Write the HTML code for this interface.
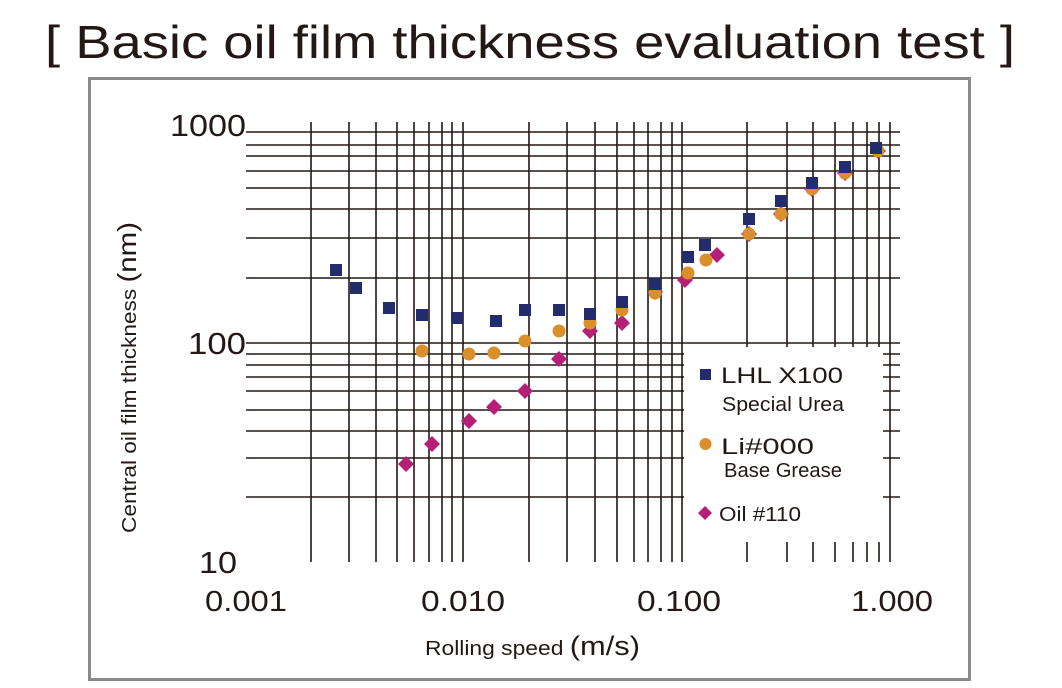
<!DOCTYPE html>
<html><head><meta charset="utf-8"><style>
html,body{margin:0;padding:0;background:#fff;}
svg{display:block;}
text{font-family:"Liberation Sans","DejaVu Sans",sans-serif;fill:#231815;}
</style></head><body>
<svg width="1062" height="688" viewBox="0 0 1062 688" xmlns="http://www.w3.org/2000/svg">
<text x="45" y="58" font-size="46" textLength="970" lengthAdjust="spacingAndGlyphs">[ Basic oil film thickness evaluation test ]</text>
<rect x="89.5" y="78.5" width="880" height="601" fill="none" stroke="#8a8a8a" stroke-width="3"/>
<g stroke="#231815" stroke-width="1.6">
<line x1="246" x2="900" y1="132" y2="132"/>
<line x1="246" x2="900" y1="145" y2="145"/>
<line x1="246" x2="900" y1="156" y2="156"/>
<line x1="246" x2="900" y1="171" y2="171"/>
<line x1="246" x2="900" y1="188" y2="188"/>
<line x1="246" x2="900" y1="209" y2="209"/>
<line x1="246" x2="900" y1="238" y2="238"/>
<line x1="246" x2="900" y1="278" y2="278"/>
<line x1="246" x2="900" y1="343" y2="343"/>
<line x1="246" x2="900" y1="354" y2="354"/>
<line x1="246" x2="900" y1="365" y2="365"/>
<line x1="246" x2="900" y1="377" y2="377"/>
<line x1="246" x2="900" y1="391" y2="391"/>
<line x1="246" x2="900" y1="410" y2="410"/>
<line x1="246" x2="900" y1="431" y2="431"/>
<line x1="246" x2="900" y1="458" y2="458"/>
<line x1="246" x2="900" y1="497" y2="497"/>
<line x1="311" x2="311" y1="122" y2="562"/>
<line x1="349" x2="349" y1="122" y2="562"/>
<line x1="376" x2="376" y1="122" y2="562"/>
<line x1="397" x2="397" y1="122" y2="562"/>
<line x1="414" x2="414" y1="122" y2="562"/>
<line x1="429" x2="429" y1="122" y2="562"/>
<line x1="442" x2="442" y1="122" y2="562"/>
<line x1="452" x2="452" y1="122" y2="562"/>
<line x1="463" x2="463" y1="122" y2="562"/>
<line x1="529" x2="529" y1="122" y2="562"/>
<line x1="567" x2="567" y1="122" y2="562"/>
<line x1="595" x2="595" y1="122" y2="562"/>
<line x1="617" x2="617" y1="122" y2="562"/>
<line x1="634" x2="634" y1="122" y2="562"/>
<line x1="648" x2="648" y1="122" y2="562"/>
<line x1="661" x2="661" y1="122" y2="562"/>
<line x1="672" x2="672" y1="122" y2="562"/>
<line x1="682" x2="682" y1="122" y2="562"/>
<line x1="747" x2="747" y1="122" y2="562"/>
<line x1="787" x2="787" y1="122" y2="562"/>
<line x1="813" x2="813" y1="122" y2="562"/>
<line x1="835" x2="835" y1="122" y2="562"/>
<line x1="853" x2="853" y1="122" y2="562"/>
<line x1="867" x2="867" y1="122" y2="562"/>
<line x1="879" x2="879" y1="122" y2="562"/>
<line x1="890" x2="890" y1="122" y2="562"/>
</g>
<rect x="684" y="347" width="199" height="195" fill="#fff"/>
<!-- diamonds -->
<g fill="#b51f77">
<path d="M406 456l8 8-8 8-8-8z"/><path d="M432 436l8 8-8 8-8-8z"/><path d="M469 413l8 8-8 8-8-8z"/><path d="M494 399l8 8-8 8-8-8z"/><path d="M525 383l8 8-8 8-8-8z"/><path d="M559 351l8 8-8 8-8-8z"/><path d="M590 323l8 8-8 8-8-8z"/><path d="M622 315l8 8-8 8-8-8z"/><path d="M655 284l8 8-8 8-8-8z"/><path d="M685 272l8 8-8 8-8-8z"/><path d="M717 247l8 8-8 8-8-8z"/><path d="M749 226l8 8-8 8-8-8z"/><path d="M781 206l8 8-8 8-8-8z"/><path d="M812 181l8 8-8 8-8-8z"/><path d="M845 165l8 8-8 8-8-8z"/><path d="M878 143l8 8-8 8-8-8z"/>
</g>
<!-- circles -->
<g fill="#d98f2a">
<circle cx="422" cy="351" r="6.5"/><circle cx="469" cy="354" r="6.5"/><circle cx="494" cy="353" r="6.5"/><circle cx="525" cy="341" r="6.5"/><circle cx="559" cy="331" r="6.5"/><circle cx="590" cy="323" r="6.5"/><circle cx="622" cy="310" r="6.5"/><circle cx="655" cy="293" r="6.5"/><circle cx="688" cy="273" r="6.5"/><circle cx="706" cy="260" r="6.5"/><circle cx="749" cy="234" r="6.5"/><circle cx="781" cy="214" r="6.5"/><circle cx="812" cy="189" r="6.5"/><circle cx="845" cy="173" r="6.5"/><circle cx="878" cy="151" r="6.5"/>
</g>
<!-- squares -->
<g fill="#232d6e">
<rect x="330" y="264" width="12" height="12"/><rect x="350" y="282" width="12" height="12"/><rect x="383" y="302" width="12" height="12"/><rect x="416" y="309" width="12" height="12"/><rect x="451" y="312" width="12" height="12"/><rect x="490" y="315" width="12" height="12"/><rect x="519" y="304" width="12" height="12"/><rect x="553" y="304" width="12" height="12"/><rect x="584" y="308" width="12" height="12"/><rect x="616" y="296" width="12" height="12"/><rect x="649" y="278" width="12" height="12"/><rect x="682" y="251" width="12" height="12"/><rect x="699" y="239" width="12" height="12"/><rect x="743" y="213" width="12" height="12"/><rect x="775" y="195" width="12" height="12"/><rect x="806" y="177" width="12" height="12"/><rect x="839" y="161" width="12" height="12"/><rect x="870" y="142" width="12" height="12"/>
</g>
<!-- legend -->
<rect x="700" y="369" width="11" height="11" fill="#232d6e"/>
<text x="721" y="383" font-size="22" textLength="122" lengthAdjust="spacingAndGlyphs">LHL X100</text>
<text x="722" y="411" font-size="20" textLength="122" lengthAdjust="spacingAndGlyphs">Special Urea</text>
<circle cx="705.5" cy="444" r="6" fill="#d98f2a"/>
<text x="721" y="454" font-size="22" textLength="93" lengthAdjust="spacingAndGlyphs">Li#000</text>
<text x="724" y="477" font-size="20" textLength="118" lengthAdjust="spacingAndGlyphs">Base Grease</text>
<path d="M705 506l7 7-7 7-7-7z" fill="#b51f77"/>
<text x="719" y="521" font-size="20" textLength="82" lengthAdjust="spacingAndGlyphs">Oil #110</text>
<!-- axis labels -->
<g font-size="31" text-anchor="end">
<text x="246" y="136" textLength="76" lengthAdjust="spacingAndGlyphs">1000</text>
<text x="246" y="354" textLength="58" lengthAdjust="spacingAndGlyphs">100</text>
<text x="237" y="573" textLength="38" lengthAdjust="spacingAndGlyphs">10</text>
</g>
<g font-size="29">
<text x="205" y="611" textLength="82" lengthAdjust="spacingAndGlyphs">0.001</text>
<text x="421" y="611" textLength="84" lengthAdjust="spacingAndGlyphs">0.010</text>
<text x="637" y="611" textLength="84" lengthAdjust="spacingAndGlyphs">0.100</text>
<text x="851" y="611" textLength="82" lengthAdjust="spacingAndGlyphs">1.000</text>
</g>
<text x="425" y="655" font-size="20" textLength="215" lengthAdjust="spacingAndGlyphs">Rolling speed <tspan font-size="27">(m/s)</tspan></text>
<text transform="translate(136,533) rotate(-90)" font-size="20" textLength="311" lengthAdjust="spacingAndGlyphs">Central oil film thickness <tspan font-size="26">(nm)</tspan></text>
</svg>
</body></html>
